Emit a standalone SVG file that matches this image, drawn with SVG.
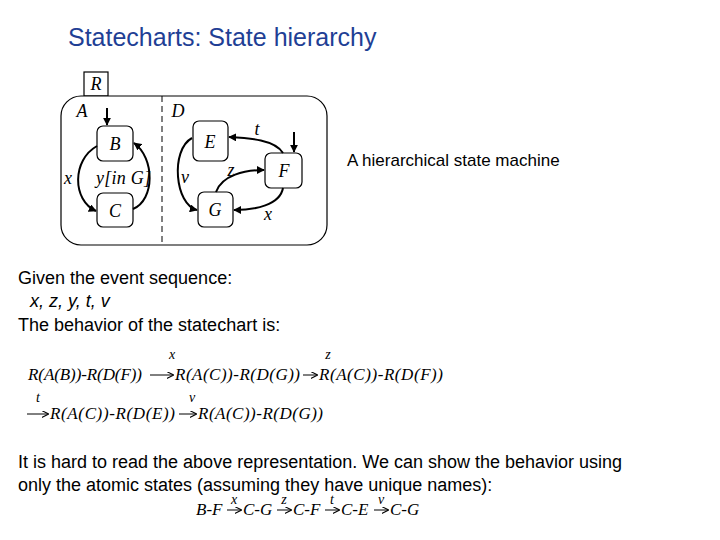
<svg xmlns="http://www.w3.org/2000/svg" width="720" height="540" viewBox="0 0 720 540">
<defs>
<style>
.st{fill:#fff;stroke:#000;stroke-width:1.2}
.s{font-family:"Liberation Serif",serif;font-style:italic;font-size:18px}
.m{font-family:"Liberation Serif",serif;font-style:italic;font-size:17px}
.l{font-family:"Liberation Serif",serif;font-style:italic;font-size:14px}
.a{font-family:"Liberation Sans",Arial,sans-serif;font-size:18px}
.c{fill:none;stroke:#000;stroke-width:2;marker-end:url(#h)}
.ar{stroke:#000;stroke-width:1;marker-end:url(#sh)}
</style>
<marker id="h" viewBox="0 0 10 10" refX="9" refY="5" markerWidth="4" markerHeight="4" orient="auto"><path d="M0,0L10,5L0,10z"/></marker>
<marker id="sh" viewBox="0 0 10 10" refX="9" refY="5" markerWidth="7" markerHeight="7" markerUnits="userSpaceOnUse" orient="auto"><path d="M0,0L10,5L0,10" fill="none" stroke="#000" stroke-width="1.5"/></marker>
</defs>
<rect width="720" height="540" fill="#fff"/>
<text x="68" y="46" font-family="Liberation Sans,Arial,sans-serif" font-size="25" fill="#1f3f95">Statecharts: State hierarchy</text>
<g id="R"><rect x="84" y="72" width="24" height="24" class="st"/><text x="96" y="90" class="s" text-anchor="middle">R</text></g>
<g id="outer"><rect x="61" y="96" width="266" height="149" rx="20" class="st"/>
<line x1="162" y1="96" x2="162" y2="245" stroke="#000" stroke-dasharray="6,4"/>
<text x="82" y="117" class="s" text-anchor="middle">A</text><text x="178" y="117" class="s" text-anchor="middle">D</text></g>
<g id="B"><rect x="97" y="126" width="36" height="35" rx="6" class="st"/><text x="115" y="150" class="s" text-anchor="middle">B</text></g>
<g id="C"><rect x="97" y="193" width="36" height="34" rx="6" class="st"/><text x="115" y="217" class="s" text-anchor="middle">C</text></g>
<g id="E"><rect x="193" y="121" width="35" height="40" rx="6" class="st"/><text x="210" y="148" class="s" text-anchor="middle">E</text></g>
<g id="F"><rect x="265" y="153" width="37" height="35" rx="6" class="st"/><text x="284" y="177" class="s" text-anchor="middle">F</text></g>
<g id="G"><rect x="198" y="192" width="35" height="35" rx="6" class="st"/><text x="215" y="216" class="s" text-anchor="middle">G</text></g>
<g id="connectors">
<line x1="107" y1="108" x2="107" y2="125" class="c"/>
<line x1="294" y1="132" x2="294" y2="152" class="c"/>
<path d="M97,146 C72,160 72,200 96,211" class="c"/>
<path d="M133,209 C155,200 155,158 134,143" class="c"/>
<path d="M192,138 C170,150 175,205 197,210" class="c"/>
<path d="M216,192 C222,175 245,170 264,170" class="c"/>
<path d="M283,153 C275,140 250,138 229,137" class="c"/>
<path d="M283,188 C280,205 255,210 234,210" class="c"/>
<text x="68" y="184" class="s" text-anchor="middle">x</text>
<text x="96" y="184" class="s" textLength="55">y[in G]</text>
<text x="185" y="183" class="s" text-anchor="middle">v</text>
<text x="231" y="176" class="s" text-anchor="middle">z</text>
<text x="257" y="135" class="s" text-anchor="middle">t</text>
<text x="268" y="220" class="s" text-anchor="middle">x</text>
</g>
<text x="347" y="166" font-family="Liberation Sans,Arial,sans-serif" font-size="17">A hierarchical state machine</text>
<text x="18" y="284" class="a">Given the event sequence:</text>
<text x="30" y="307" class="a" font-style="italic">x, z, y, t, v</text>
<text x="18" y="331" class="a">The behavior of the statechart is:</text>
<text x="172" y="359" class="l" text-anchor="middle">x</text><text x="328" y="359" class="l" text-anchor="middle">z</text>
<text x="28" y="380" class="m" textLength="114">R(A(B))-R(D(F))</text>
<line x1="150" y1="375" x2="173" y2="375" class="ar"/>
<text x="175" y="380" class="m" textLength="125">R(A(C))-R(D(G))</text>
<line x1="303" y1="375" x2="317" y2="375" class="ar"/>
<text x="319" y="380" class="m" textLength="124">R(A(C))-R(D(F))</text>
<text x="38" y="402" class="l" text-anchor="middle">t</text><text x="192" y="402" class="l" text-anchor="middle">v</text>
<line x1="27" y1="414" x2="48" y2="414" class="ar"/>
<text x="50" y="419" class="m" textLength="125">R(A(C))-R(D(E))</text>
<line x1="179" y1="414" x2="196" y2="414" class="ar"/>
<text x="198" y="419" class="m" textLength="125">R(A(C))-R(D(G))</text>
<text x="18" y="468" class="a">It is hard to read the above representation. We can show the behavior using</text>
<text x="18" y="491" class="a">only the atomic states (assuming they have unique names):</text>
<text x="196" y="515" class="m">B-F</text>
<line x1="227" y1="510" x2="241" y2="510" class="ar"/><text x="234" y="504" font-size="13" class="l" text-anchor="middle">x</text>
<text x="243" y="515" class="m">C-G</text>
<line x1="277" y1="510" x2="291" y2="510" class="ar"/><text x="284" y="504" font-size="13" class="l" text-anchor="middle">z</text>
<text x="293" y="515" class="m">C-F</text>
<line x1="325" y1="510" x2="339" y2="510" class="ar"/><text x="332" y="504" font-size="13" class="l" text-anchor="middle">t</text>
<text x="341" y="515" class="m">C-E</text>
<line x1="374" y1="510" x2="388" y2="510" class="ar"/><text x="381" y="504" font-size="13" class="l" text-anchor="middle">v</text>
<text x="390" y="515" class="m">C-G</text>
</svg>
